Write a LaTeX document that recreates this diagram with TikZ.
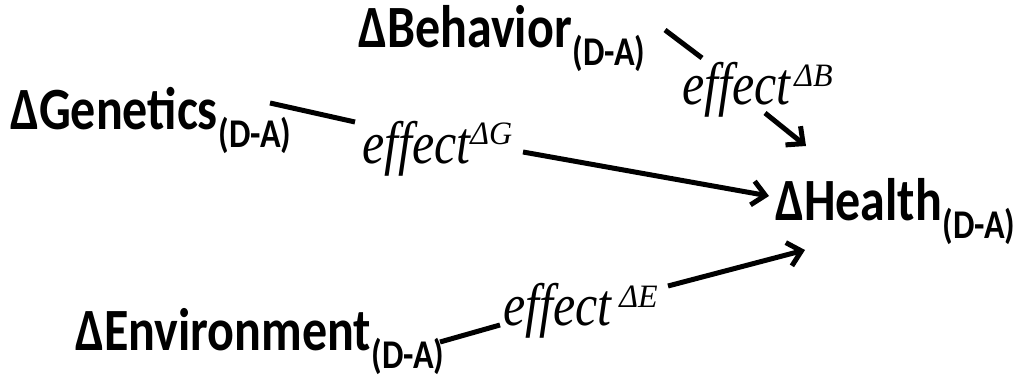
\documentclass[tikz,border=0pt]{standalone}
\usepackage{fontspec}
\usepackage{graphicx}
\setmainfont{Carlito}
\newfontfamily\efont{Liberation Serif}
\usetikzlibrary{arrows.meta}
\newcommand{\stretchy}[1]{\scalebox{1}[1.2]{#1}}
\newcommand{\dasub}{\hspace{1pt}\raisebox{-15pt}{\fontsize{34}{34}\selectfont (D-A)}}
\newcommand{\effsup}[2]{effect\hspace{#2}\raisebox{15pt}{\scalebox{1}[0.85]{\fontsize{32}{32}\selectfont Δ#1}}}
\begin{document}
\begin{tikzpicture}[x=1pt,y=-1pt,
  lbl/.style={inner sep=0pt, anchor=base west, font=\fontsize{50}{50}\selectfont\bfseries},
  eff/.style={inner sep=0pt, anchor=base west, font=\fontsize{50}{50}\selectfont\efont\itshape},
  conn/.style={line width=5pt},
  arr/.style={conn, -{Straight Barb[length=13pt,width=24pt]}}]
\useasboundingbox (0,0) rectangle (1022,385);
\node[lbl] (beh) at (358,48) {\stretchy{ΔBehavior\dasub}};
\node[lbl] (gen) at (10,130) {\stretchy{ΔGenetics\dasub}};
\node[lbl] (hea) at (775,220) {\stretchy{ΔHealth\dasub}};
\node[lbl] (env) at (75,350) {\stretchy{ΔEnvironment\dasub}};
\node[eff] (effB) at (682,105) {\stretchy{\effsup{B}{4pt}}};
\node[eff] (effG) at (362,163) {\stretchy{\effsup{G}{0pt}}};
\node[eff] (effE) at (503,325) {\stretchy{\effsup{E}{8pt}}};
% Behavior
\coordinate (b1) at (665,30);
\coordinate (b2) at (702,58);
\coordinate (b3) at (765,113);
\coordinate (b4) at (806,146);
\draw[conn] (b1) -- (b2);
\draw[arr] (b3) -- (b4);
% Genetics
\coordinate (g1) at (270,103);
\coordinate (g2) at (355,122);
\coordinate (g3) at (523,152);
\coordinate (g4) at (769,196);
\draw[conn] (g1) -- (g2);
\draw[arr] (g3) -- (g4);
% Environment
\coordinate (e1) at (440,342);
\coordinate (e2) at (500,325);
\coordinate (e3) at (668,286);
\coordinate (e4) at (805,250);
\draw[conn] (e1) -- (e2);
\draw[arr] (e3) -- (e4);
\end{tikzpicture}
\end{document}
